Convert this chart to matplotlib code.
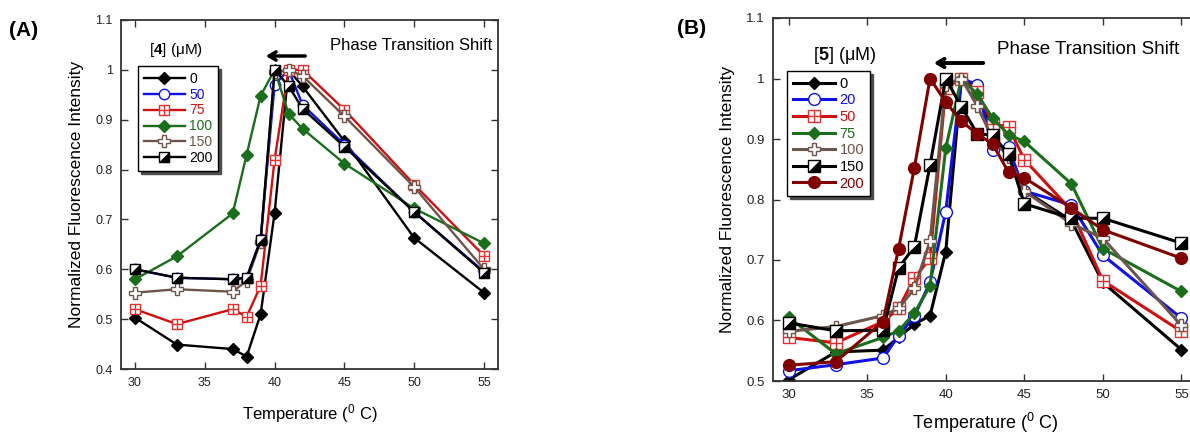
import matplotlib
matplotlib.use("Agg")
import matplotlib.pyplot as plt
from matplotlib.path import Path
from matplotlib.legend_handler import HandlerTuple
from matplotlib.ticker import FuncFormatter, MultipleLocator

plt.rcParams['font.family'] = ['Liberation Sans', 'DejaVu Sans']
plt.rcParams['mathtext.fontset'] = 'custom'
plt.rcParams['mathtext.rm'] = 'Liberation Sans'
plt.rcParams['mathtext.bf'] = 'Liberation Sans:bold'
plt.rcParams['mathtext.it'] = 'Liberation Sans:italic'

# ---------------- data ----------------
temps_A = [30, 33, 37, 38, 39, 40, 41, 42, 45, 50, 55]
labels_A = ["0", "50", "75", "100", "150", "200"]
a_0 = [0.503, 0.449, 0.440, 0.425, 0.510, 0.713, 1.000, 0.967, 0.857, 0.663, 0.553]
a_50 = [0.600, 0.583, 0.580, 0.583, 0.660, 0.970, 1.000, 0.930, 0.850, 0.715, 0.595]
a_75 = [0.520, 0.490, 0.520, 0.505, 0.567, 0.820, 1.000, 1.000, 0.920, 0.770, 0.627]
a_100 = [0.580, 0.626, 0.712, 0.830, 0.948, 1.000, 0.912, 0.882, 0.812, 0.722, 0.652]
a_150 = [0.553, 0.560, 0.555, 0.577, 0.655, 0.995, 1.000, 0.988, 0.907, 0.765, 0.600]
a_200 = [0.600, 0.583, 0.580, 0.583, 0.658, 1.000, 0.968, 0.922, 0.846, 0.715, 0.593]

temps_B = [30, 33, 36, 37, 38, 39, 40, 41, 42, 43, 44, 45, 48, 50, 55]
labels_B = ["0", "20", "50", "75", "100", "150", "200"]
b_0 = [0.502, 0.548, 0.551, 0.572, 0.594, 0.608, 0.714, 1.000, 0.985, 0.905, 0.872, 0.815, 0.765, 0.663, 0.552]
b_20 = [0.517, 0.527, 0.538, 0.575, 0.607, 0.663, 0.780, 1.000, 0.990, 0.882, 0.886, 0.814, 0.791, 0.708, 0.604]
b_50 = [0.572, 0.563, 0.598, 0.620, 0.670, 0.703, 0.985, 1.000, 0.978, 0.925, 0.920, 0.866, 0.782, 0.666, 0.582]
b_75 = [0.605, 0.545, 0.572, 0.583, 0.612, 0.657, 0.885, 1.000, 0.974, 0.934, 0.907, 0.896, 0.826, 0.719, 0.648]
b_100 = [0.582, 0.590, 0.608, 0.620, 0.653, 0.731, 0.990, 1.000, 0.955, 0.900, 0.870, 0.814, 0.760, 0.736, 0.592]
b_150 = [0.596, 0.583, 0.584, 0.687, 0.722, 0.857, 1.000, 0.953, 0.909, 0.906, 0.875, 0.793, 0.769, 0.769, 0.728]
b_200 = [0.526, 0.532, 0.598, 0.719, 0.852, 1.000, 0.961, 0.929, 0.909, 0.891, 0.845, 0.836, 0.786, 0.750, 0.703]

# ---------------- styles ----------------
BLACK = '#000000'
BLUE = '#1010e8'
RED = '#d01010'
GREEN = '#1b6e1b'
BROWN = '#6e554b'
DRED = '#800000'
TRI = Path([(1, -1), (1, 1), (-1, -1), (1, -1)], [Path.MOVETO, Path.LINETO, Path.LINETO, Path.CLOSEPOLY])


def draw(ax, x, y, kind, color, lw, ms):
    """Return legend handle for a series."""
    if kind == 'diamond':
        l, = ax.plot(x, y, color=color, lw=lw, marker='D', ms=ms * 0.75,
                     mfc=color, mec=color)
        return l
    if kind == 'circle_open':
        l, = ax.plot(x, y, color=color, lw=lw, marker='o', ms=ms,
                     mfc='white', mec=color, mew=1.0)
        return l
    if kind == 'circle':
        l, = ax.plot(x, y, color=color, lw=lw, marker='o', ms=ms,
                     mfc=color, mec=color)
        return l
    if kind == 'sqplus':
        l, = ax.plot(x, y, color=color, lw=lw, marker='s', ms=ms,
                     mfc='white', mec='#e03030', mew=1.0)
        o, = ax.plot(x, y, ls='none', marker='+', ms=ms, mec='#e03030', mew=1.0)
        return (l, o)
    if kind == 'plus_open':
        l, = ax.plot(x, y, color=color, lw=lw, marker='P', ms=ms * 1.1,
                     mfc='white', mec=color, mew=1.0)
        return l
    if kind == 'halfsq':
        l, = ax.plot(x, y, color=color, lw=lw, marker='s', ms=ms,
                     mfc='white', mec=BLACK, mew=1.0)
        o, = ax.plot(x, y, ls='none', marker=TRI, ms=ms, mfc=BLACK, mec=BLACK, mew=0.5)
        return (l, o)


W, H = 1190, 434
fig = plt.figure(figsize=(W / 100, H / 100), dpi=100)


def px_rect(l, t, r, b):
    return [l / W, 1 - b / H, (r - l) / W, (b - t) / H]


axA = fig.add_axes(px_rect(121, 20, 498, 369))
axB = fig.add_axes(px_rect(773, 18, 1197, 381))

fmt = FuncFormatter(lambda v, p: '%g' % round(v, 3))


def style_axis(ax, ylo, yhi, tsize):
    ax.set_xlim(29, 56)
    ax.set_ylim(ylo, yhi)
    ax.xaxis.set_major_locator(MultipleLocator(5))
    ax.yaxis.set_major_locator(MultipleLocator(0.1))
    ax.yaxis.set_major_formatter(fmt)
    ax.tick_params(direction='in', top=True, right=True, length=5, width=1.0,
                   color='#333333', labelsize=tsize, labelcolor='#222222', pad=6)
    for s in ax.spines.values():
        s.set_color('#333333')
        s.set_linewidth(1.3)


# ---------------- panel A ----------------
lwA, msA = 1.7, 7.5
series_A = [
    (a_0, 'diamond', BLACK),
    (a_50, 'circle_open', BLUE),
    (a_75, 'sqplus', RED),
    (a_100, 'diamond', GREEN),
    (a_150, 'plus_open', BROWN),
    (a_200, 'halfsq', BLACK),
]
handles_A = []
for y, kind, c in series_A:
    handles_A.append(draw(axA, temps_A, y, kind, c, lwA, msA))
style_axis(axA, 0.4, 1.1, 9)
axA.set_xlabel(r'Temperature ($^{0}$ C)', fontsize=12, labelpad=9)
axA.set_ylabel('Normalized Fluorescence Intensity', fontsize=12.5, labelpad=8)

legA = fig.legend(handles_A, labels_A, loc='upper left',
                  bbox_to_anchor=(138 / W, 1 - 66 / H), bbox_transform=fig.transFigure,
                  borderaxespad=0, fancybox=False, shadow={'color': '0.3', 'alpha': 1},
                  edgecolor='black', framealpha=1, fontsize=10, handlelength=3.0,
                  handletextpad=0.3, labelspacing=0.14, borderpad=0.4,
                  handler_map={tuple: HandlerTuple(ndivide=1)})
legA.get_frame().set_linewidth(1.0)
for t, (_, _, c) in zip(legA.get_texts(), series_A):
    t.set_color(c)

fig.text(176 / W, 1 - 50 / H, r'[$\mathbf{4}$] (μM)', fontsize=11, ha='center', va='center')
fig.text(330 / W, 1 - 46 / H, 'Phase Transition Shift', fontsize=12, ha='left', va='center')
fig.text(9 / W, 1 - 30 / H, '(A)', fontsize=15, fontweight='bold', ha='left', va='center')
axA.annotate('', xy=(263 / W, 1 - 56 / H), xytext=(308 / W, 1 - 56 / H),
             xycoords='figure fraction', textcoords='figure fraction',
             arrowprops=dict(arrowstyle='->,head_length=0.5,head_width=0.3', lw=2.5, color='black'))

# ---------------- panel B ----------------
lwB, msB = 2.2, 8.5
series_B = [
    (b_0, 'diamond', BLACK),
    (b_20, 'circle_open', BLUE),
    (b_50, 'sqplus', RED),
    (b_75, 'diamond', GREEN),
    (b_100, 'plus_open', BROWN),
    (b_150, 'halfsq', BLACK),
    (b_200, 'circle', DRED),
]
handles_B = []
for y, kind, c in series_B:
    handles_B.append(draw(axB, temps_B, y, kind, c, lwB, msB))
style_axis(axB, 0.5, 1.1, 9.5)
axB.set_xlabel(r'Temperature ($^{0}$ C)', fontsize=13, labelpad=7)
axB.set_ylabel('Normalized Fluorescence Intensity', fontsize=12.5, labelpad=8)

legB = fig.legend(handles_B, labels_B, loc='upper left',
                  bbox_to_anchor=(787 / W, 1 - 71 / H), bbox_transform=fig.transFigure,
                  borderaxespad=0, fancybox=False, shadow={'color': '0.3', 'alpha': 1},
                  edgecolor='black', framealpha=1, fontsize=10.5, handlelength=2.9,
                  handletextpad=0.3, labelspacing=0.18, borderpad=0.4,
                  handler_map={tuple: HandlerTuple(ndivide=1)})
legB.get_frame().set_linewidth(1.0)
for t, (_, _, c) in zip(legB.get_texts(), series_B):
    t.set_color(c)

fig.text(845 / W, 1 - 55 / H, r'[$\mathbf{5}$] (μM)', fontsize=13, ha='center', va='center')
fig.text(997 / W, 1 - 49 / H, 'Phase Transition Shift', fontsize=13.5, ha='left', va='center')
fig.text(677 / W, 1 - 28 / H, '(B)', fontsize=15, fontweight='bold', ha='left', va='center')
axB.annotate('', xy=(931 / W, 1 - 63 / H), xytext=(986 / W, 1 - 63 / H),
             xycoords='figure fraction', textcoords='figure fraction',
             arrowprops=dict(arrowstyle='->,head_length=0.5,head_width=0.3', lw=2.8, color='black'))

fig.savefig('out.png', dpi=100)
